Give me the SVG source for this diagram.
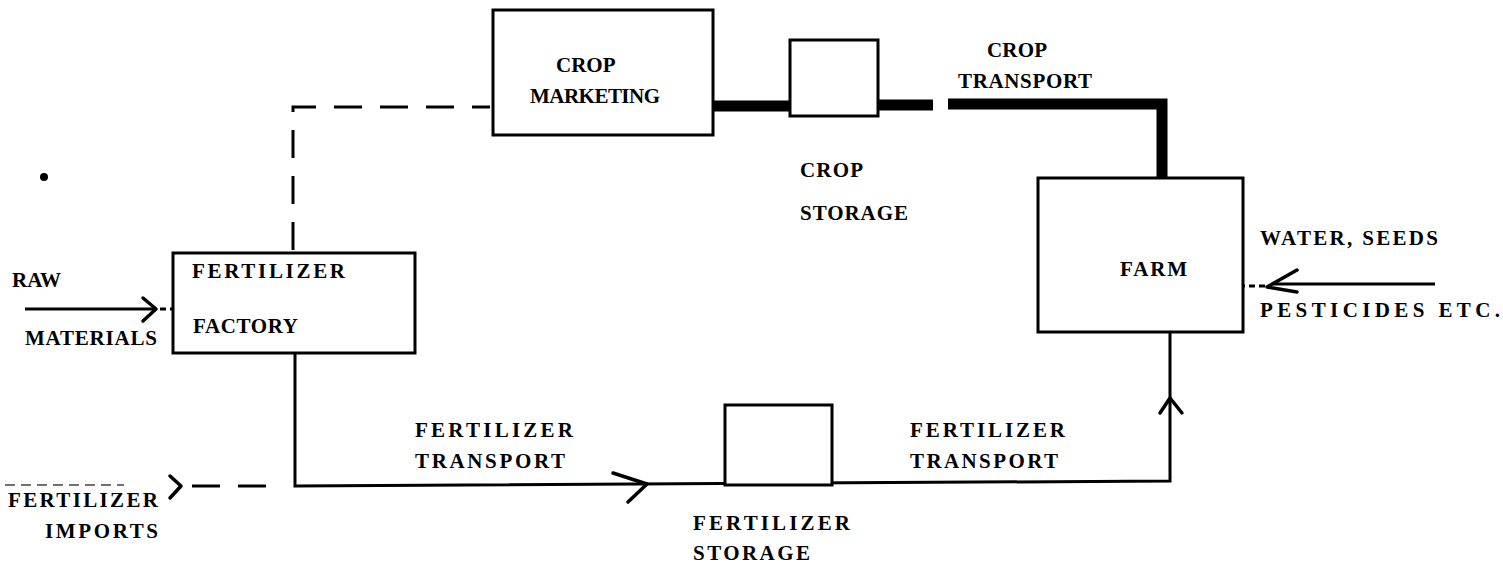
<svg xmlns="http://www.w3.org/2000/svg" width="1503" height="568" viewBox="0 0 1503 568">
<style>
text{font-family:"Liberation Serif","DejaVu Serif",serif;font-weight:bold;font-size:21px;fill:#000}
.box{fill:#fff;stroke:#000;stroke-width:3}
.thin{fill:none;stroke:#000;stroke-width:3}
.thick{fill:none;stroke:#000;stroke-width:11}
.dash{fill:none;stroke:#000;stroke-width:3;stroke-dasharray:28 18}
.head{fill:none;stroke:#000;stroke-width:3.5;stroke-linecap:round;stroke-linejoin:round}
</style>
<rect width="1503" height="568" fill="#fff"/>
<g id="connectors">
  <path class="dash" d="M293,250 L293,107 L490,107"/>
  <path class="thick" d="M713,106 L790,106"/>
  <path class="thick" d="M878,105 L933,105"/>
  <path class="thick" d="M948,104 L1162,104 L1162,178"/>
  <path class="thin" d="M295,353 L295,486 L1170,481 L1170,332"/>
  <path class="head" d="M613,473 L647,484 L628,502"/>
  <path class="head" d="M1160,413 L1170,398 L1182,413"/>
  <path class="thin" d="M25,309 L155,309"/>
  <path class="head" d="M143,298 L156,309 L143,321"/>
  <path class="thin" d="M160,309 L172,309" stroke-dasharray="6 4"/>
  <path class="thin" d="M1435,284 L1273,284"/>
  <path class="head" d="M1297,270 L1267,287 L1297,292"/>
  <path class="thin" d="M1265,286 L1244,286" stroke-dasharray="6 4"/>
  <path fill="none" stroke="#444" stroke-width="1.5" stroke-dasharray="10 6" d="M5,485 L124,485"/>
  <path class="head" d="M170,476 L181,486 L170,498"/>
  <path class="dash" d="M192,486 L275,486" stroke-dasharray="14 14"/>
  <circle cx="44" cy="177" r="4" fill="#000"/>
</g>
<g id="crop-marketing">
  <rect class="box" x="493" y="10" width="220" height="125"/>
  <text x="556" y="72">CROP</text>
  <text x="530" y="103" textLength="130" lengthAdjust="spacing">MARKETING</text>
</g>
<g id="crop-storage">
  <rect class="box" x="790" y="40" width="88" height="76"/>
  <text x="800" y="177" textLength="63" lengthAdjust="spacing">CROP</text>
  <text x="800" y="220" textLength="108" lengthAdjust="spacing">STORAGE</text>
</g>
<g id="crop-transport">
  <text x="987" y="57" textLength="60" lengthAdjust="spacing">CROP</text>
  <text x="958" y="88" textLength="134" lengthAdjust="spacing">TRANSPORT</text>
</g>
<g id="farm">
  <rect class="box" x="1038" y="178" width="205" height="154"/>
  <text x="1120" y="276" textLength="67" lengthAdjust="spacing">FARM</text>
</g>
<g id="farm-inputs">
  <text x="1260" y="245" textLength="178" lengthAdjust="spacing">WATER, SEEDS</text>
  <text x="1260" y="317" textLength="240" lengthAdjust="spacing">PESTICIDES ETC.</text>
</g>
<g id="fertilizer-factory">
  <rect class="box" x="173" y="253" width="242" height="100"/>
  <text x="192" y="278" textLength="153" lengthAdjust="spacing">FERTILIZER</text>
  <text x="193" y="333" textLength="105" lengthAdjust="spacing">FACTORY</text>
</g>
<g id="raw-materials">
  <text x="12" y="287">RAW</text>
  <text x="25" y="345" textLength="132" lengthAdjust="spacing">MATERIALS</text>
</g>
<g id="fertilizer-imports">
  <text x="8" y="507" textLength="150" lengthAdjust="spacing">FERTILIZER</text>
  <text x="45" y="538" textLength="113" lengthAdjust="spacing">IMPORTS</text>
</g>
<g id="fertilizer-transport-1">
  <text x="415" y="437" textLength="158" lengthAdjust="spacing">FERTILIZER</text>
  <text x="415" y="468" textLength="150" lengthAdjust="spacing">TRANSPORT</text>
</g>
<g id="fertilizer-storage">
  <rect class="box" x="725" y="405" width="107" height="80"/>
  <text x="693" y="530" textLength="157" lengthAdjust="spacing">FERTILIZER</text>
  <text x="693" y="560" textLength="117" lengthAdjust="spacing">STORAGE</text>
</g>
<g id="fertilizer-transport-2">
  <text x="910" y="437" textLength="155" lengthAdjust="spacing">FERTILIZER</text>
  <text x="910" y="468" textLength="148" lengthAdjust="spacing">TRANSPORT</text>
</g>
</svg>
